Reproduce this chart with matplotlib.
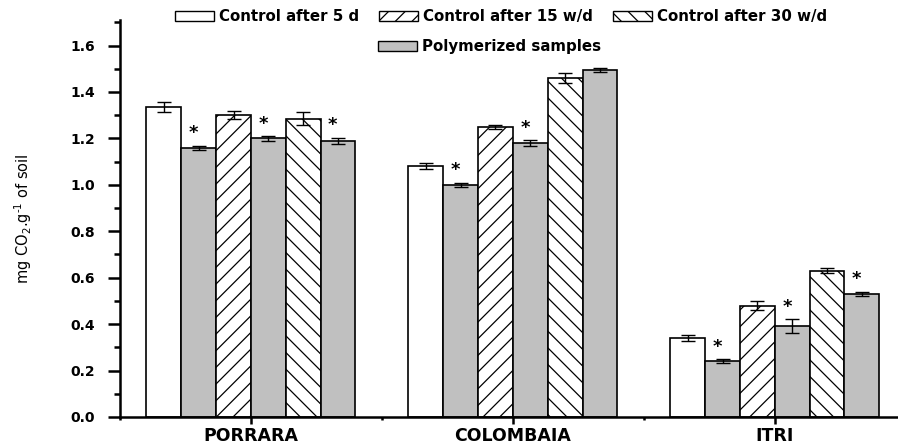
import matplotlib
matplotlib.use("Agg")
import matplotlib.pyplot as plt
from matplotlib.patches import Patch
from matplotlib.ticker import MultipleLocator, FixedLocator, FuncFormatter
import numpy as np

plt.rcParams["font.family"] = ["DejaVu Sans"]
plt.rcParams["hatch.linewidth"] = 0.9

soils = ["PORRARA", "COLOMBAIA", "ITRI"]

# respiration (mg CO2 per g soil), control / polymerized pairs at each time
ctrl_5d = [1.335, 1.08, 0.34]
poly_5d = [1.16, 1.00, 0.24]
ctrl_15 = [1.30, 1.25, 0.48]
poly_15 = [1.20, 1.18, 0.39]
ctrl_30 = [1.285, 1.46, 0.63]
poly_30 = [1.19, 1.495, 0.53]

err_ctrl_5d = [0.02, 0.012, 0.012]
err_poly_5d = [0.008, 0.008, 0.008]
err_ctrl_15 = [0.016, 0.008, 0.02]
err_poly_15 = [0.01, 0.012, 0.03]
err_ctrl_30 = [0.029, 0.022, 0.01]
err_poly_30 = [0.012, 0.008, 0.01]

# significant difference from the matching control
sig_5d = [True, True, True]
sig_15 = [True, True, True]
sig_30 = [True, False, True]

GRAY = "#c0c0c0"
HATCH_15 = "//"
HATCH_30 = "\\\\"

series = [
    (ctrl_5d, err_ctrl_5d, "white", "", None),
    (poly_5d, err_poly_5d, GRAY, "", sig_5d),
    (ctrl_15, err_ctrl_15, "white", HATCH_15, None),
    (poly_15, err_poly_15, GRAY, "", sig_15),
    (ctrl_30, err_ctrl_30, "white", HATCH_30, None),
    (poly_30, err_poly_30, GRAY, "", sig_30),
]

W, H = 898, 445
fig = plt.figure(figsize=(W / 100, H / 100), dpi=100)
ax = fig.add_axes([0.1336, 0.063, 0.875, 0.892])

x = np.arange(1, len(soils) + 1)
width = 0.133
offsets = (np.arange(6) - 2.5) * width

for (vals, errs, color, hatch, sig), off in zip(series, offsets):
    ax.bar(x + off, vals, width, color=color, edgecolor="black",
           linewidth=1.2, hatch=hatch, zorder=2)
    ax.errorbar(x + off, vals, yerr=errs, fmt="none", ecolor="black",
                elinewidth=1.0, capsize=5, capthick=1.0, zorder=3)
    if sig is not None:
        for xi, v, e, s in zip(x + off, vals, errs, sig):
            if s:
                ax.text(xi - 0.02, v + e + 0.015, "*", ha="center",
                        va="bottom", fontsize=13, fontweight="bold")

ax.set_xlim(0.5, 3.5)
ax.set_ylim(0, 1.71)
ax.set_xticks(x)
ax.set_xticklabels(soils, fontsize=12.5, fontweight="bold")
ax.xaxis.set_minor_locator(FixedLocator([0.5, 1.5, 2.5, 3.5]))
ax.yaxis.set_major_locator(MultipleLocator(0.2))
ax.yaxis.set_minor_locator(MultipleLocator(0.1))
ax.yaxis.set_major_formatter(FuncFormatter(lambda v, p: f"{v:.1f}"))
for lbl in ax.get_yticklabels():
    lbl.set_fontweight("bold")
    lbl.set_fontsize(10)

ax.tick_params(axis="y", which="major", length=9, width=1.8, pad=9)
ax.tick_params(axis="y", which="minor", length=4.5, width=1.8)
ax.tick_params(axis="x", which="major", length=5, width=1.8, pad=2)
ax.tick_params(axis="x", which="minor", length=2.5, width=1.8)

for side in ["top", "right"]:
    ax.spines[side].set_visible(False)
for side in ["left", "bottom"]:
    ax.spines[side].set_linewidth(1.8)

ax.set_ylabel("mg CO$_2$.g$^{\\text{-}1}$ of soil", fontsize=10.5,
              labelpad=26)

legend_font = {"weight": "bold", "size": 10.8}
legend_kw = dict(frameon=False, prop=legend_font, handlelength=2.6,
                 handleheight=0.7, handletextpad=0.35, borderpad=0,
                 borderaxespad=0, loc="upper left",
                 bbox_transform=fig.transFigure)

row1 = [
    Patch(facecolor="white", edgecolor="black", linewidth=1.0),
    Patch(facecolor="white", edgecolor="black", linewidth=1.0, hatch=HATCH_15),
    Patch(facecolor="white", edgecolor="black", linewidth=1.0, hatch=HATCH_30),
]
leg1 = ax.legend(row1, ["Control after 5 d", "Control after 15 w/d",
                        "Control after 30 w/d"],
                 ncol=3, columnspacing=1.3,
                 bbox_to_anchor=(175 / W, 1 - 9 / H), **legend_kw)
ax.add_artist(leg1)
ax.legend([Patch(facecolor=GRAY, edgecolor="black", linewidth=1.0)],
          ["Polymerized samples"],
          bbox_to_anchor=(378 / W, 1 - 39 / H), **legend_kw)

fig.savefig("out.png", dpi=100)
